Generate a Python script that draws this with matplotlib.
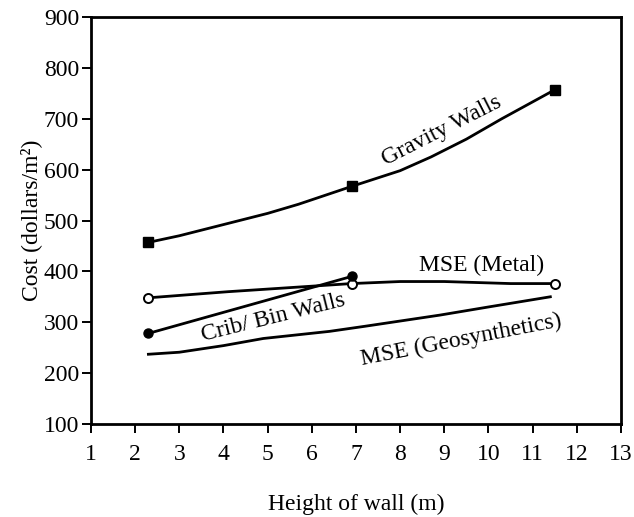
import matplotlib
matplotlib.use("Agg")
import matplotlib.pyplot as plt

# values (height of wall in m, cost in $/m2)
gravity_x = [2.3, 3.0, 4.0, 5.0, 5.7, 6.9, 8.0, 8.7, 9.5, 10.3, 11.5]
gravity_y = [457, 470, 492, 514, 532, 567, 598, 625, 660, 700, 757]
gravity_marks = [0, 5, 10]

metal_x = [2.3, 4.1, 5.5, 6.9, 8.0, 9.0, 10.5, 11.5]
metal_y = [348, 360, 368, 376, 380, 380, 376, 376]
metal_marks = [0, 3, 7]

crib_x = [2.3, 6.9]
crib_y = [278, 390]

geo_x = [2.3, 3.0, 4.0, 4.9, 6.4, 7.2, 8.9, 10.0, 11.4]
geo_y = [237, 241, 254, 268, 282, 292, 314, 330, 350]

x_ticks = list(range(1, 14))
y_ticks = list(range(100, 1000, 100))

plt.rcParams["font.family"] = ["Liberation Serif", "DejaVu Serif"]
plt.rcParams["font.size"] = 17

fig = plt.figure(figsize=(6.34, 5.17), dpi=100)
ax = fig.add_axes([0.1435, 0.180, 0.8360, 0.787])

lw = 2.0
ax.plot(gravity_x, gravity_y, color="black", lw=lw, marker="s", ms=7.5,
        markevery=gravity_marks)
ax.plot(metal_x, metal_y, color="black", lw=lw, marker="o", ms=6.5,
        mfc="white", mec="black", mew=1.4, markevery=metal_marks)
ax.plot(crib_x, crib_y, color="black", lw=lw, marker="o", ms=6.5)
ax.plot(geo_x, geo_y, color="black", lw=lw)

ax.text(8.95, 676, "Gravity Walls", rotation=27, ha="center", va="center")
ax.text(9.84, 412, "MSE (Metal)", ha="center", va="center")
ax.text(5.12, 308, "Crib/ Bin Walls", rotation=14, ha="center", va="center")
ax.text(9.38, 265, "MSE (Geosynthetics)", rotation=11, ha="center", va="center")

ax.set_xlim(1, 13)
ax.set_ylim(100, 900)
ax.set_xticks(x_ticks)
ax.set_yticks(y_ticks)
ax.tick_params(direction="out", length=6.5, width=1.4, top=False, right=False,
               labelsize=17)
ax.tick_params(axis="x", pad=8)
ax.tick_params(axis="y", pad=2)
for sp in ax.spines.values():
    sp.set_linewidth(2.0)

ax.set_xlabel("Height of wall (m)", fontsize=17, labelpad=21)
ax.set_ylabel("Cost (dollars/m²)", fontsize=17, labelpad=1)

fig.savefig("out.png", dpi=100)
